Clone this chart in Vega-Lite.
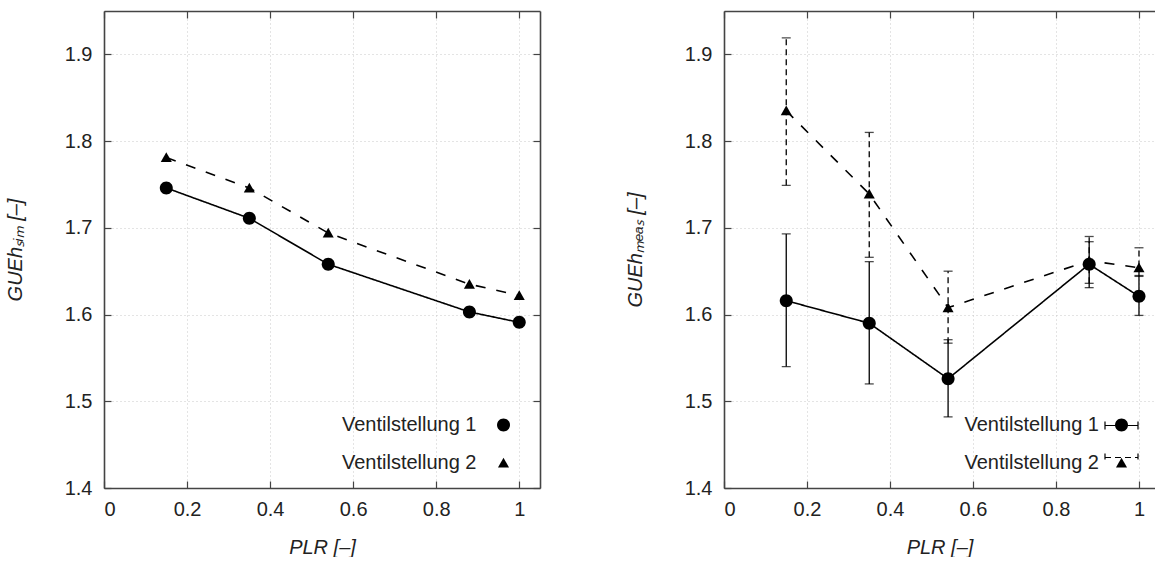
{
  "$schema": "https://vega.github.io/schema/vega-lite/v6.json",
  "padding": {"left": 5, "top": 10, "right": 0, "bottom": 0},
  "datasets": {
    "sim": [
      {"PLR": 0.15, "GUEh": 1.746, "series": "Ventilstellung 1"},
      {"PLR": 0.35, "GUEh": 1.711, "series": "Ventilstellung 1"},
      {"PLR": 0.54, "GUEh": 1.658, "series": "Ventilstellung 1"},
      {"PLR": 0.88, "GUEh": 1.603, "series": "Ventilstellung 1"},
      {"PLR": 1.0, "GUEh": 1.591, "series": "Ventilstellung 1"},
      {"PLR": 0.15, "GUEh": 1.781, "series": "Ventilstellung 2"},
      {"PLR": 0.35, "GUEh": 1.746, "series": "Ventilstellung 2"},
      {"PLR": 0.54, "GUEh": 1.694, "series": "Ventilstellung 2"},
      {"PLR": 0.88, "GUEh": 1.635, "series": "Ventilstellung 2"},
      {"PLR": 1.0, "GUEh": 1.622, "series": "Ventilstellung 2"}
    ],
    "meas": [
      {"PLR": 0.15, "GUEh": 1.616, "lo": 1.540, "hi": 1.693, "series": "Ventilstellung 1"},
      {"PLR": 0.35, "GUEh": 1.590, "lo": 1.520, "hi": 1.661, "series": "Ventilstellung 1"},
      {"PLR": 0.54, "GUEh": 1.526, "lo": 1.482, "hi": 1.571, "series": "Ventilstellung 1"},
      {"PLR": 0.88, "GUEh": 1.658, "lo": 1.631, "hi": 1.684, "series": "Ventilstellung 1"},
      {"PLR": 1.0, "GUEh": 1.621, "lo": 1.599, "hi": 1.645, "series": "Ventilstellung 1"},
      {"PLR": 0.15, "GUEh": 1.835, "lo": 1.749, "hi": 1.919, "series": "Ventilstellung 2"},
      {"PLR": 0.35, "GUEh": 1.739, "lo": 1.666, "hi": 1.810, "series": "Ventilstellung 2"},
      {"PLR": 0.54, "GUEh": 1.608, "lo": 1.567, "hi": 1.650, "series": "Ventilstellung 2"},
      {"PLR": 0.88, "GUEh": 1.662, "lo": 1.636, "hi": 1.690, "series": "Ventilstellung 2"},
      {"PLR": 1.0, "GUEh": 1.654, "lo": 1.644, "hi": 1.677, "series": "Ventilstellung 2"}
    ]
  },
  "spacing": 84,
  "hconcat": [
    {
      "width": 436,
      "height": 477,
      "data": {"name": "sim"},
      "layer": [
        {
          "mark": {"type": "line", "color": "black", "strokeWidth": 1.6},
          "encoding": {
            "x": {"field": "PLR", "type": "quantitative", "scale": {"domain": [0, 1.05], "nice": false, "zero": false},
              "axis": {"orient": "bottom", "values": [0, 0.2, 0.4, 0.6, 0.8, 1], "format": "~g", "title": "PLR [–]", "titleFontStyle": "italic", "grid": true, "labelPadding": 18, "titlePadding": 18}},
            "y": {"field": "GUEh", "type": "quantitative", "scale": {"domain": [1.4, 1.95], "nice": false, "zero": false},
              "axis": {"orient": "left", "values": [1.4, 1.5, 1.6, 1.7, 1.8, 1.9], "format": ".1f", "title": "GUEhₛᵢₘ [–]", "titleFontStyle": "italic", "grid": true, "labelPadding": 19, "titlePadding": 39}},
            "detail": {"field": "series", "type": "nominal"},
            "strokeDash": {"condition": {"test": "datum.series === 'Ventilstellung 2'", "value": [10, 11]}, "value": [1, 0]}
          }
        },
        {
          "mark": {"type": "point", "filled": true, "color": "black", "size": 169, "opacity": 1},
          "encoding": {
            "x": {"field": "PLR", "type": "quantitative", "axis": {"orient": "top", "values": [0, 0.2, 0.4, 0.6, 0.8, 1], "labels": false, "title": null, "grid": false}},
            "y": {"field": "GUEh", "type": "quantitative", "axis": {"orient": "right", "values": [1.4, 1.5, 1.6, 1.7, 1.8, 1.9], "labels": false, "title": null, "grid": false}},
            "shape": {"field": "series", "type": "nominal",
              "scale": {"domain": ["Ventilstellung 1", "Ventilstellung 2"], "range": ["M-1,0A1,1,0,1,0,1,0A1,1,0,1,0,-1,0Z", "M0,-0.8L0.85,0.7L-0.85,0.7Z"]},
              "legend": {"orient": "none", "legendX": 389.5, "legendY": 404, "title": null, "padding": 0, "symbolOffset": 0, "labelAlign": "right", "labelOffset": -37, "labelFontSize": 20, "labelFont": "Liberation Sans", "labelColor": "#222", "labelLimit": 0, "symbolSize": 169, "rowPadding": 18}}
          }
        }
      ],
      "resolve": {"axis": {"x": "independent", "y": "independent"}}
    },
    {
      "width": 431,
      "height": 477,
      "data": {"name": "meas"},
      "layer": [
        {
          "mark": {"type": "rule", "color": "black", "strokeWidth": 1.3},
          "encoding": {
            "x": {"field": "PLR", "type": "quantitative", "scale": {"domain": [0, 1.0386], "nice": false, "zero": false},
              "axis": {"orient": "bottom", "values": [0, 0.2, 0.4, 0.6, 0.8, 1], "format": "~g", "title": "PLR [–]", "titleFontStyle": "italic", "grid": true, "labelPadding": 18, "titlePadding": 18}},
            "y": {"field": "lo", "type": "quantitative", "scale": {"domain": [1.4, 1.95], "nice": false, "zero": false},
              "axis": {"orient": "left", "values": [1.4, 1.5, 1.6, 1.7, 1.8, 1.9], "format": ".1f", "title": "GUEhₘₑₐₛ [–]", "titleFontStyle": "italic", "grid": true, "labelPadding": 19, "titlePadding": 39}},
            "y2": {"field": "hi"},
            "strokeDash": {"field": "series", "type": "nominal", "scale": {"domain": ["Ventilstellung 1", "Ventilstellung 2"], "range": [[1, 0], [6, 4]]},
              "legend": {"orient": "none", "legendX": 380, "legendY": 397, "title": null, "padding": 0, "symbolOffset": 0, "labelAlign": "right", "labelOffset": -40, "labelFontSize": 20, "labelFont": "Liberation Sans", "labelExpr": "''", "labelLimit": 0, "symbolSize": 1089, "rowPadding": 4,
                "symbolType": "M-1,-0.24V0.24M-1,0H1M1,-0.24V0.24", "symbolStrokeColor": "black", "symbolStrokeWidth": 1.2, "symbolFillColor": "transparent"}}
          }
        },
        {
          "mark": {"type": "tick", "orient": "horizontal", "size": 9, "thickness": 1.3, "color": "black"},
          "encoding": {
            "x": {"field": "PLR", "type": "quantitative", "axis": null},
            "y": {"field": "lo", "type": "quantitative", "axis": null}
          }
        },
        {
          "mark": {"type": "tick", "orient": "horizontal", "size": 9, "thickness": 1.3, "color": "black"},
          "encoding": {
            "x": {"field": "PLR", "type": "quantitative", "axis": null},
            "y": {"field": "hi", "type": "quantitative", "axis": null}
          }
        },
        {
          "mark": {"type": "line", "color": "black", "strokeWidth": 1.6},
          "encoding": {
            "x": {"field": "PLR", "type": "quantitative", "axis": {"orient": "top", "values": [0, 0.2, 0.4, 0.6, 0.8, 1], "labels": false, "title": null, "grid": false}},
            "y": {"field": "GUEh", "type": "quantitative", "axis": null},
            "strokeDash": {"field": "series", "type": "nominal", "scale": {"domain": ["Ventilstellung 1", "Ventilstellung 2"], "range": [[1, 0], [10, 11]]}, "legend": null}
          }
        },
        {
          "mark": {"type": "point", "filled": true, "color": "black", "size": 169, "opacity": 1},
          "encoding": {
            "x": {"field": "PLR", "type": "quantitative", "axis": null},
            "y": {"field": "GUEh", "type": "quantitative", "axis": null},
            "shape": {"field": "series", "type": "nominal",
              "scale": {"domain": ["Ventilstellung 1", "Ventilstellung 2"], "range": ["M-1,0A1,1,0,1,0,1,0A1,1,0,1,0,-1,0Z", "M0,-0.8L0.85,0.7L-0.85,0.7Z"]},
              "legend": {"orient": "none", "legendX": 387.5, "legendY": 404, "title": null, "padding": 0, "symbolOffset": 0, "labelAlign": "right", "labelOffset": -32.5, "labelFontSize": 20, "labelFont": "Liberation Sans", "labelColor": "#222", "labelLimit": 0, "symbolSize": 169, "rowPadding": 18}}
          }
        }
      ],
      "resolve": {"scale": {"strokeDash": "independent"}, "axis": {"x": "independent", "y": "independent"}}
    }
  ],
  "resolve": {"scale": {"x": "independent", "y": "independent", "shape": "independent", "strokeDash": "independent"}, "legend": {"shape": "independent", "strokeDash": "independent"}},
  "config": {
    "font": "Liberation Sans",
    "view": {"stroke": null},
    "axis": {
      "labelFont": "Liberation Sans", "labelFontSize": 20, "labelColor": "#222",
      "titleFont": "Liberation Sans", "titleFontSize": 20, "titleFontWeight": "normal", "titleColor": "#222",
      "domainColor": "#444", "domainWidth": 1.6, "tickColor": "#444", "tickSize": -7, "tickWidth": 1.2,
      "gridColor": "#c8c8c8", "gridDash": [1, 3], "gridWidth": 1
    }
  }
}
